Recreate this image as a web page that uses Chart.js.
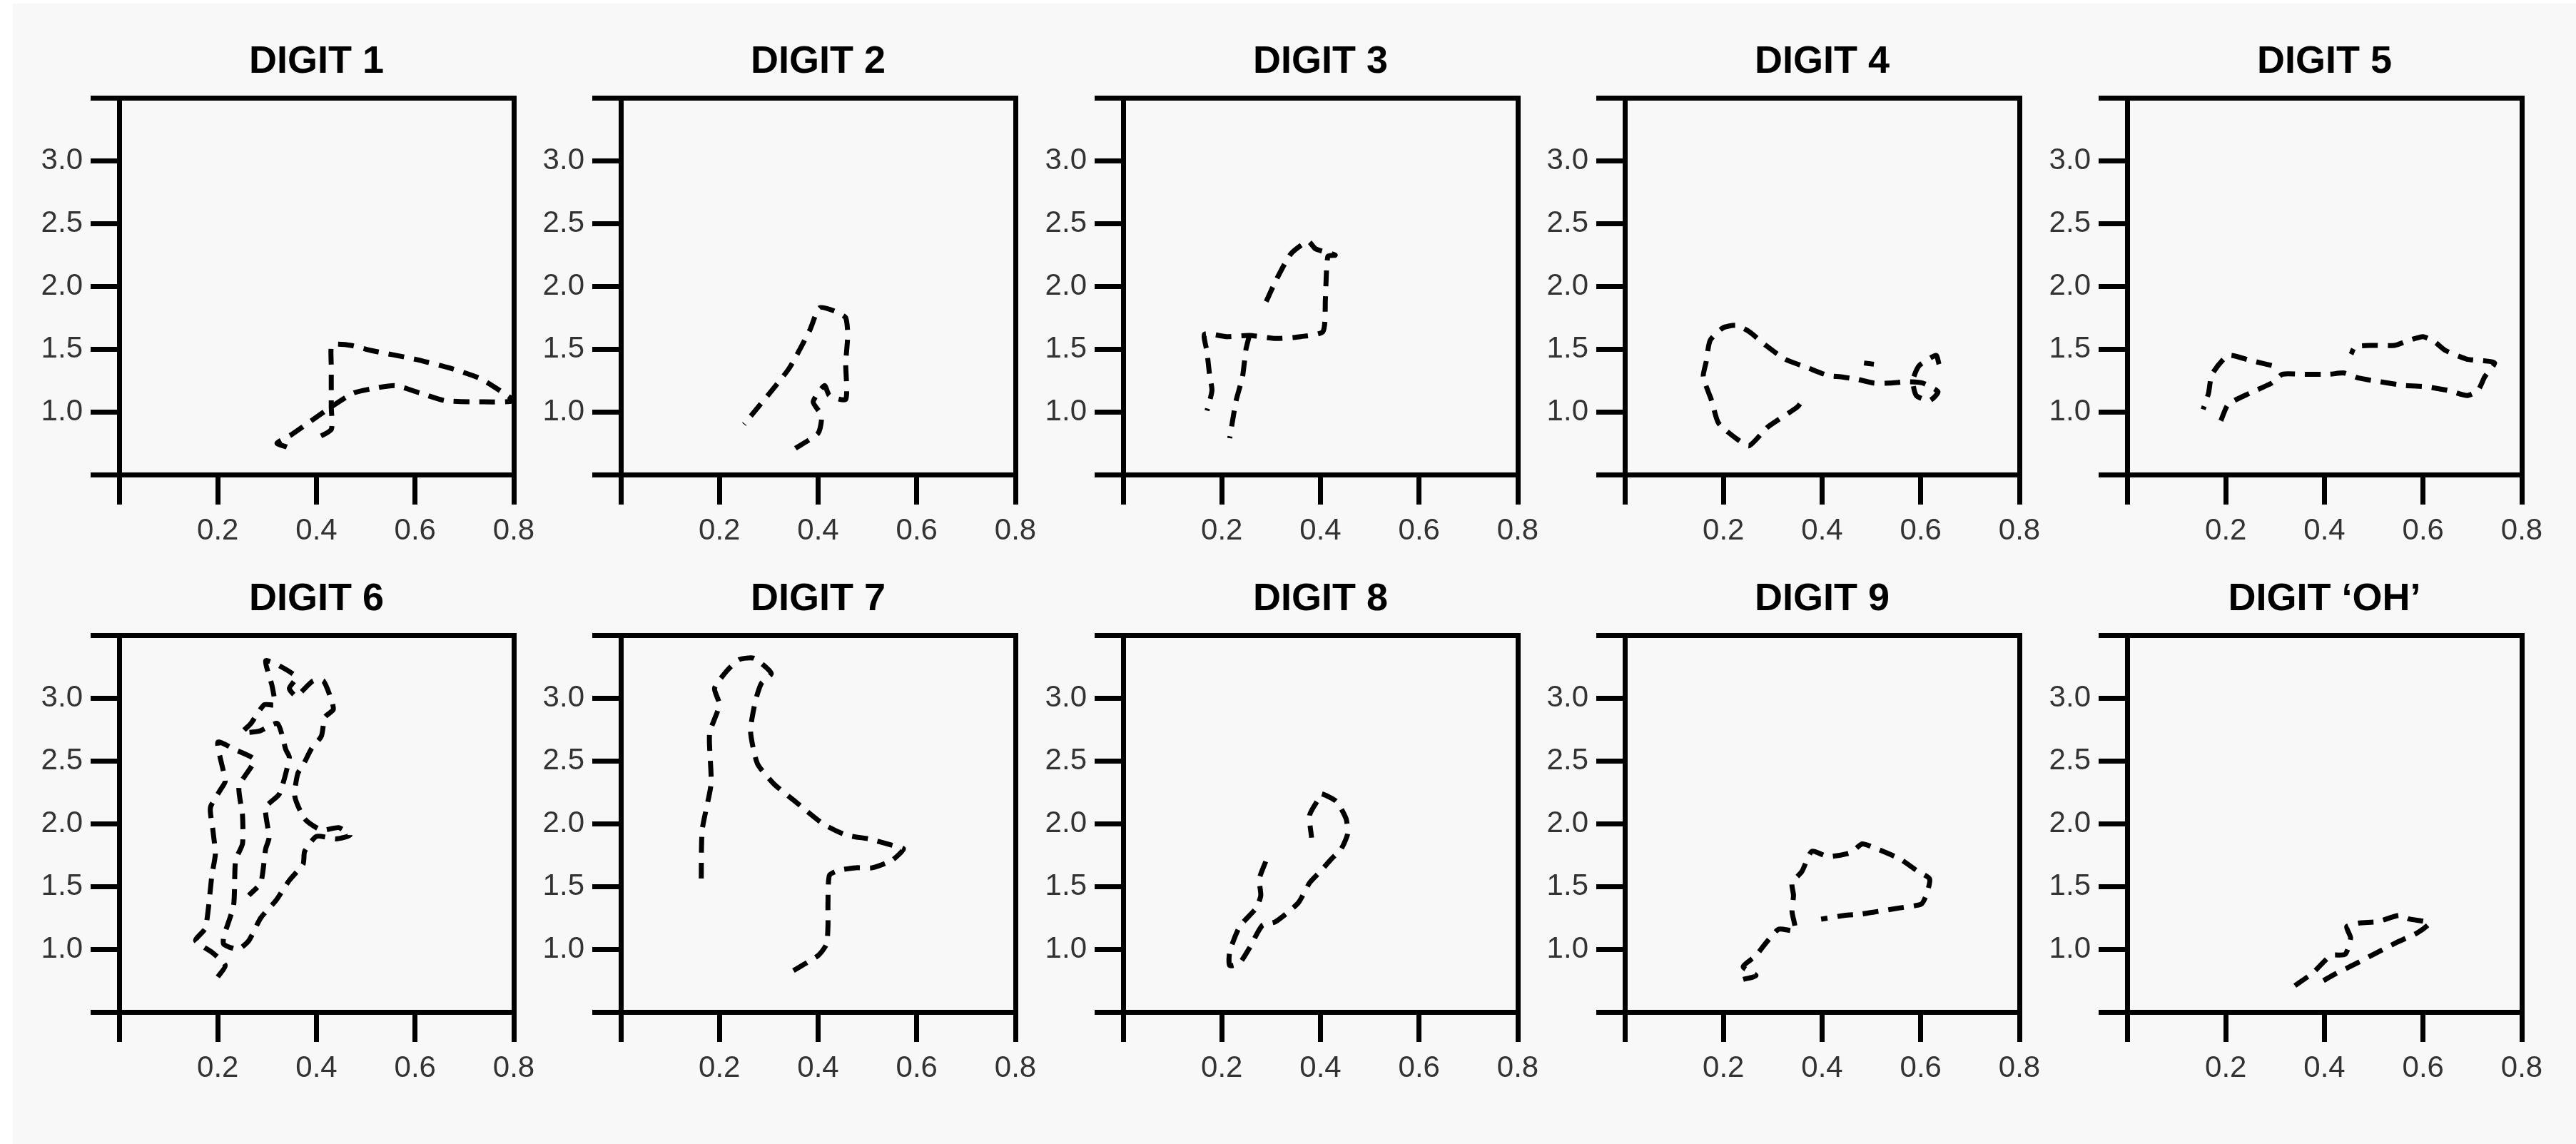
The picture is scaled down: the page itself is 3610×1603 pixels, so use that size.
<!DOCTYPE html>
<html>
<head>
<meta charset="utf-8">
<title>Digit trajectories</title>
<script src="https://cdn.jsdelivr.net/npm/chart.js@4.4.1/dist/chart.umd.min.js"></script>
<style>
  html, body { margin: 0; padding: 0; background: #ffffff; }
  #page { position: absolute; left: 18px; top: 5px; width: 3592px; height: 1598px; background: #f8f8f8; }
  canvas { position: absolute; }
</style>
</head>
<body>
<div id="page"></div>
<script>
'use strict';

const titles = ['DIGIT 1', 'DIGIT 2', 'DIGIT 3', 'DIGIT 4', 'DIGIT 5', 'DIGIT 6', 'DIGIT 7', 'DIGIT 8', 'DIGIT 9', 'DIGIT \u2018OH\u2019'];
const xTickLabels = ['0.2', '0.4', '0.6', '0.8'];
const yTickLabels = ['1.0', '1.5', '2.0', '2.5', '3.0'];

// each trace is [x, y] points, null breaks the line
const trace1 = [[0.34, 0.72], [0.32, 0.75], [0.35, 0.82], [0.39, 0.93], [0.43, 1.04], [0.475, 1.15], [0.52, 1.19], [0.56, 1.21], [0.61, 1.15], [0.66, 1.09], [0.73, 1.08], [0.80, 1.09], [0.76, 1.20], [0.73, 1.27], [0.67, 1.35], [0.60, 1.42], [0.51, 1.49], [0.47, 1.53], [0.44, 1.54], [0.43, 1.52], [0.43, 1.36], [0.43, 1.23], [0.43, 1.04], [0.43, 0.86], [0.40, 0.79]];
const trace2 = [[0.354, 0.71], [0.40, 0.83], [0.407, 0.97], [0.39, 1.08], [0.413, 1.21], [0.423, 1.13], [0.456, 1.10], [0.456, 1.39], [0.46, 1.61], [0.456, 1.75], [0.436, 1.80], [0.403, 1.83], [0.383, 1.65], [0.34, 1.34], [0.26, 0.95], [0.25, 0.90]];
const trace3 = [[0.29, 1.88], [0.31, 2.05], [0.34, 2.26], [0.375, 2.36], [0.39, 2.30], [0.43, 2.25], [0.415, 2.24], [0.41, 1.90], [0.405, 1.64], [0.36, 1.60], [0.31, 1.585], [0.256, 1.61], [0.21, 1.60], [0.165, 1.62], [0.17, 1.48], [0.175, 1.30], [0.18, 1.17], [0.17, 1.01], null, [0.256, 1.61], [0.249, 1.50], [0.242, 1.28], [0.229, 1.09], [0.216, 0.79]];
const trace4 = [[0.637, 1.38], [0.631, 1.45], [0.597, 1.37], [0.584, 1.25], [0.591, 1.13], [0.618, 1.09], [0.635, 1.16], [0.604, 1.23], [0.571, 1.24], [0.538, 1.23], [0.505, 1.23], [0.471, 1.26], [0.438, 1.28], [0.412, 1.29], [0.372, 1.35], [0.325, 1.42], [0.286, 1.53], [0.252, 1.64], [0.226, 1.69], [0.199, 1.67], [0.173, 1.57], [0.165, 1.40], [0.159, 1.28], [0.176, 1.09], [0.19, 0.91], [0.225, 0.79], [0.252, 0.73], [0.29, 0.88], [0.35, 1.04], [0.365, 1.12], null, [0.485, 1.39], [0.505, 1.38]];
const trace5 = [[0.19, 0.93], [0.205, 1.06], [0.249, 1.15], [0.293, 1.23], [0.315, 1.30], [0.352, 1.30], [0.41, 1.30], [0.44, 1.31], [0.469, 1.27], [0.513, 1.24], [0.564, 1.21], [0.608, 1.20], [0.652, 1.17], [0.689, 1.13], [0.711, 1.17], [0.725, 1.28], [0.745, 1.39], [0.718, 1.41], [0.689, 1.42], [0.645, 1.49], [0.623, 1.56], [0.60, 1.60], [0.571, 1.57], [0.542, 1.53], [0.498, 1.53], [0.462, 1.52], [0.454, 1.46], null, [0.293, 1.37], [0.25, 1.41], [0.205, 1.45], [0.172, 1.30], [0.165, 1.15], [0.154, 1.02]];
const trace6 = [[0.200, 0.78], [0.215, 0.87], [0.190, 0.97], [0.155, 1.07], [0.175, 1.17], [0.188, 1.59], [0.195, 1.76], [0.190, 1.95], [0.185, 2.13], [0.205, 2.27], [0.215, 2.34], [0.200, 2.65], [0.236, 2.59], [0.274, 2.51], [0.243, 2.30], [0.250, 2.07], [0.250, 1.84], [0.236, 1.71], [0.232, 1.35], [0.212, 1.10], [0.212, 1.04], [0.241, 1.00], [0.263, 1.07], [0.287, 1.25], [0.318, 1.39], [0.345, 1.55], [0.373, 1.68], [0.376, 1.78], [0.40, 1.90], [0.44, 1.88], [0.468, 1.91], [0.445, 1.97], [0.41, 1.95], [0.376, 2.04], [0.356, 2.22], [0.362, 2.40], [0.373, 2.47], [0.39, 2.60], [0.41, 2.70], [0.417, 2.85], [0.434, 2.91], [0.431, 2.98], [0.414, 3.14], [0.393, 3.14], [0.359, 3.02], [0.345, 3.08], [0.359, 3.17], [0.325, 3.26], [0.297, 3.30], [0.31, 3.10], [0.315, 2.95], [0.294, 2.95], [0.267, 2.80], [0.25, 2.73], [0.284, 2.74], [0.321, 2.80], [0.338, 2.59], [0.345, 2.53], [0.325, 2.24], [0.297, 2.13], [0.304, 1.89], [0.297, 1.80], [0.287, 1.53], [0.263, 1.43]];
const trace7 = [[0.35, 0.83], [0.40, 0.95], [0.417, 1.04], [0.42, 1.19], [0.42, 1.37], [0.423, 1.59], [0.443, 1.63], [0.477, 1.65], [0.51, 1.65], [0.55, 1.71], [0.573, 1.80], [0.55, 1.83], [0.503, 1.88], [0.457, 1.91], [0.41, 2.00], [0.35, 2.19], [0.31, 2.32], [0.277, 2.48], [0.263, 2.74], [0.273, 2.98], [0.285, 3.12], [0.305, 3.20], [0.27, 3.32], [0.24, 3.31], [0.215, 3.22], [0.19, 3.08], [0.20, 2.95], [0.18, 2.72], [0.183, 2.32], [0.165, 1.95], [0.163, 1.50]];
const trace8 = [[0.289, 1.70], [0.276, 1.56], [0.279, 1.43], [0.27, 1.33], [0.236, 1.18], [0.216, 0.98], [0.216, 0.87], [0.236, 0.89], [0.256, 1.01], [0.282, 1.19], [0.309, 1.22], [0.355, 1.37], [0.378, 1.53], [0.402, 1.63], [0.422, 1.72], [0.442, 1.80], [0.455, 1.92], [0.452, 2.04], [0.432, 2.18], [0.402, 2.24], [0.398, 2.21], [0.378, 2.07], [0.382, 1.89]];
const trace9 = [[0.24, 0.76], [0.266, 0.79], [0.24, 0.86], [0.266, 0.95], [0.286, 1.05], [0.312, 1.16], [0.345, 1.15], [0.339, 1.30], [0.342, 1.43], [0.339, 1.53], [0.359, 1.62], [0.379, 1.78], [0.412, 1.74], [0.458, 1.77], [0.481, 1.84], [0.505, 1.81], [0.558, 1.72], [0.591, 1.63], [0.618, 1.56], [0.611, 1.43], [0.601, 1.36], [0.558, 1.33], [0.511, 1.30], [0.478, 1.28], [0.445, 1.27], [0.398, 1.24]];
const trace10 = [[0.34, 0.71], [0.376, 0.81], [0.413, 0.95], [0.442, 0.96], [0.453, 1.09], [0.445, 1.18], [0.471, 1.21], [0.508, 1.22], [0.551, 1.27], [0.573, 1.24], [0.613, 1.21], [0.588, 1.13], [0.544, 1.05], [0.50, 0.96], [0.456, 0.87], [0.42, 0.80], [0.398, 0.75]];

const traces = [trace1, trace2, trace3, trace4, trace5, trace6, trace7, trace8, trace9, trace10];

// panel placement (plot area left / top in page pixels)
const colLeft = [167, 870, 1574, 2277, 2981];
const rowTop = [138, 891];
const plotW = 553;
const yAxisW = 120;
const xAxisH = 110;
const padRight = 45;
const titleBand = 54 * 1.2 + 18;

const fontFamily = '"Liberation Sans", Arial, Helvetica, sans-serif';
const lineW = 7;

function toPoints(trace) {
  return trace.map(p => p ? { x: p[0], y: p[1] } : { x: null, y: null });
}

function frameAxis(position, min, max, fitKey) {
  return {
    type: 'linear',
    position: position,
    min: min,
    max: max,
    ticks: { display: false },
    grid: { display: false },
    border: { display: true, width: lineW, color: '#000' },
    afterFit: function(scale) { scale[fitKey] = 0; }
  };
}

function makePanel(i) {
  const col = i % 5;
  const row = Math.floor(i / 5);
  const canvas = document.createElement('canvas');
  const w = yAxisW + plotW + padRight;
  const h = 720;
  canvas.width = w;
  canvas.height = h;
  canvas.style.left = (colLeft[col] - yAxisW) + 'px';
  canvas.style.top = (rowTop[row] - titleBand) + 'px';
  document.body.appendChild(canvas);

  new Chart(canvas.getContext('2d'), {
    type: 'scatter',
    data: {
      datasets: [{
        data: toPoints(traces[i]),
        showLine: true,
        borderColor: '#000',
        borderWidth: 7,
        borderDash: [22, 14],
        tension: 0.2,
        pointRadius: 0,
        spanGaps: false
      }]
    },
    options: {
      responsive: false,
      animation: false,
      layout: { padding: { left: 0, right: padRight, top: 0, bottom: 0 } },
      plugins: {
        legend: { display: false },
        tooltip: { enabled: false },
        title: {
          display: true,
          text: titles[i],
          fullSize: false,
          color: '#000',
          font: { family: fontFamily, size: 54, weight: 'bold' },
          padding: { top: 0, bottom: 18 }
        }
      },
      scales: {
        x: {
          type: 'linear',
          position: 'bottom',
          min: 0,
          max: 0.8,
          ticks: {
            stepSize: 0.2,
            padding: 12,
            maxRotation: 0,
            autoSkip: false,
            color: '#333',
            font: { family: fontFamily, size: 42 },
            callback: function(value) {
              const label = Number(value).toFixed(1);
              return xTickLabels.includes(label) ? label : '';
            }
          },
          grid: { display: true, drawOnChartArea: false, drawTicks: true, tickLength: 42, lineWidth: lineW, color: '#000' },
          border: { display: true, width: lineW, color: '#000' },
          afterFit: function(scale) { scale.height = xAxisH; }
        },
        y: {
          type: 'linear',
          position: 'left',
          min: 0.5,
          max: 3.5,
          ticks: {
            stepSize: 0.5,
            padding: 11,
            color: '#333',
            font: { family: fontFamily, size: 42 },
            callback: function(value) {
              const label = Number(value).toFixed(1);
              return yTickLabels.includes(label) ? label : '';
            }
          },
          grid: { display: true, drawOnChartArea: false, drawTicks: true, tickLength: 40, lineWidth: lineW, color: '#000' },
          border: { display: true, width: lineW, color: '#000' },
          afterFit: function(scale) { scale.width = yAxisW; }
        },
        x2: frameAxis('top', 0, 0.8, 'height'),
        y2: frameAxis('right', 0.5, 3.5, 'width')
      }
    }
  });
}

for (let i = 0; i < traces.length; i++) {
  makePanel(i);
}
</script>
</body>
</html>
